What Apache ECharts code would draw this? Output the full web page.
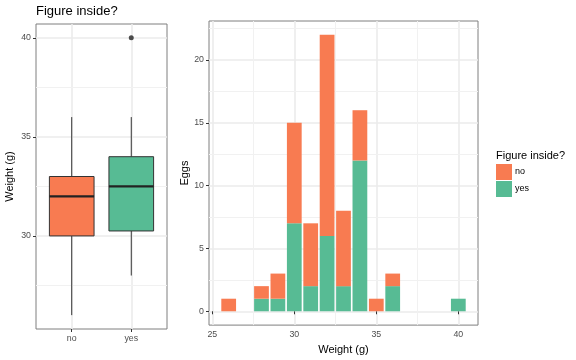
<!DOCTYPE html>
<html><head><meta charset="utf-8">
<script src="https://cdn.jsdelivr.net/npm/echarts@6/dist/echarts.min.js"></script>
<style>html,body{margin:0;padding:0;background:#fff}#c{width:576px;height:360px}</style>
</head><body><div id="c"></div>
<script>
// ---- data ----
const boxCategories = ['no', 'yes'];
const boxNo = [26, 30, 32, 33, 36];        // min, Q1, median, Q3, max
const boxYes = [28, 30.25, 32.5, 34, 36];
const outliersYes = [40];
const weights = [26, 28, 29, 30, 31, 32, 33, 34, 35, 36, 40];
const eggsNo  = [1, 1, 2, 8, 5, 16, 6, 4, 1, 1, 0];
const eggsYes = [0, 1, 1, 7, 2, 6, 2, 12, 0, 2, 1];
const leftYTicks = [30, 35, 40];
const leftYMinor = [27.5, 32.5, 37.5];
const rightXTicks = [25, 30, 35, 40];
const rightXMinor = [27.5, 32.5, 37.5];
const rightYTicks = [0, 5, 10, 15, 20];
const rightYMinor = [2.5, 7.5, 12.5, 17.5, 22.5];

const colNo = '#F87B51', colYes = '#57BB94';
const FONT = 'Liberation Sans, Arial, sans-serif';
const gridMajor = '#EBEBEB', gridMinor = '#F1F1F1';
const tickLbl = { color: '#4D4D4D', fontSize: 8.8, fontFamily: FONT };
const tickStyle = { show: true, length: 3, lineStyle: { color: '#333333', width: 1 } };
const majorSplit = { show: true, lineStyle: { color: gridMajor, width: 1.6 } };

function minorLines(axisKey, vals) {
  return {
    silent: true, symbol: 'none', z: 1, animation: false,
    label: { show: false },
    lineStyle: { type: 'solid', color: gridMinor, width: 1 },
    emphasis: { disabled: true },
    data: vals.map(v => ({ [axisKey]: v }))
  };
}

const boxData = [[1].concat(boxNo), [2].concat(boxYes)];
// stacked: yes at bottom, no on top
const yesBars = weights.map((w, i) => [w, 0, eggsYes[i]]);
const noBars = weights.map((w, i) => [w, eggsYes[i], eggsYes[i] + eggsNo[i]]);

function renderBar(params, api) {
  const x = api.value(0), y0 = api.value(1), y1 = api.value(2);
  if (y1 <= y0) return null;
  const p0 = api.coord([x - 0.45, y1]);
  const p1 = api.coord([x + 0.45, y0]);
  return { type: 'rect', shape: { x: p0[0], y: p0[1], width: p1[0] - p0[0], height: p1[1] - p0[1] },
           style: { fill: api.visual('color') } };
}

const chart = echarts.init(document.getElementById('c'), null, { renderer: 'canvas' });
chart.setOption({
  animation: false,
  backgroundColor: '#ffffff',
  textStyle: { fontFamily: FONT },
  title: [
    { text: 'Figure inside?', left: 36, top: 5, padding: 0, textStyle: { fontSize: 13, fontWeight: 'normal', color: '#000', fontFamily: FONT } },
    { text: 'Figure inside?', left: 496, top: 150, padding: 0, textStyle: { fontSize: 11, fontWeight: 'normal', color: '#000', fontFamily: FONT } }
  ],
  legend: {
    data: ['no', 'yes'], orient: 'vertical', left: 496, top: 164, padding: 0,
    icon: 'rect', itemWidth: 16, itemHeight: 16, itemGap: 1,
    textStyle: { fontSize: 9, color: '#000', fontFamily: FONT, padding: [0, 0, 0, -2] }
  },
  grid: [
    { left: 36, top: 24, width: 131, height: 305, show: true, borderColor: '#7F7F7F', borderWidth: 1, backgroundColor: '#fff' },
    { left: 209, top: 21, width: 269, height: 305, show: true, borderColor: '#7F7F7F', borderWidth: 1, backgroundColor: '#fff' }
  ],
  xAxis: [
    { gridIndex: 0, type: 'value', min: 0.4, max: 2.6,
      axisLine: { show: false },
      axisTick: Object.assign({ customValues: [1, 2] }, tickStyle),
      axisLabel: Object.assign({ customValues: [1, 2], margin: 5, formatter: v => boxCategories[Math.round(v) - 1] }, tickLbl),
      splitLine: majorSplit },
    { gridIndex: 1, type: 'value', min: 24.8, max: 41.2,
      name: 'Weight (g)', nameLocation: 'middle', nameGap: 16,
      nameTextStyle: { fontSize: 11, color: '#000', fontFamily: FONT },
      axisLine: { show: false },
      axisTick: Object.assign({ customValues: rightXTicks }, tickStyle),
      axisLabel: Object.assign({ customValues: rightXTicks, margin: 5 }, tickLbl),
      splitLine: majorSplit }
  ],
  yAxis: [
    { gridIndex: 0, type: 'value', min: 25.3, max: 40.7,
      name: 'Weight (g)', nameLocation: 'middle', nameGap: 21,
      nameTextStyle: { fontSize: 11, color: '#000', fontFamily: FONT },
      axisLine: { show: false },
      axisTick: Object.assign({ customValues: leftYTicks }, tickStyle),
      axisLabel: Object.assign({ customValues: leftYTicks, margin: 5 }, tickLbl),
      splitLine: majorSplit },
    { gridIndex: 1, type: 'value', min: -1.1, max: 23.1,
      name: 'Eggs', nameLocation: 'middle', nameGap: 15,
      nameTextStyle: { fontSize: 11, color: '#000', fontFamily: FONT },
      axisLine: { show: false },
      axisTick: Object.assign({ customValues: rightYTicks }, tickStyle),
      axisLabel: Object.assign({ customValues: rightYTicks, margin: 5 }, tickLbl),
      splitLine: majorSplit }
  ],
  series: [
    {
      type: 'custom', name: 'box', xAxisIndex: 0, yAxisIndex: 0, z: 3,
      data: boxData,
      encode: { x: 0, y: [1, 2, 3, 4, 5] },
      markLine: minorLines('yAxis', leftYMinor),
      renderItem: function (params, api) {
        const x = api.value(0);
        const half = 0.375;
        const pMin = api.coord([x, api.value(1)]);
        const pQ1 = api.coord([x, api.value(2)]);
        const pMed = api.coord([x, api.value(3)]);
        const pQ3 = api.coord([x, api.value(4)]);
        const pMax = api.coord([x, api.value(5)]);
        const left = api.coord([x - half, api.value(3)])[0];
        const right = api.coord([x + half, api.value(3)])[0];
        const fill = params.dataIndex === 0 ? colNo : colYes;
        const ls = { stroke: '#333333', lineWidth: 1 };
        return {
          type: 'group',
          children: [
            { type: 'line', shape: { x1: pMin[0], y1: pMin[1], x2: pQ1[0], y2: pQ1[1] }, style: ls },
            { type: 'line', shape: { x1: pQ3[0], y1: pQ3[1], x2: pMax[0], y2: pMax[1] }, style: ls },
            { type: 'rect', shape: { x: left, y: pQ3[1], width: right - left, height: pQ1[1] - pQ3[1] },
              style: { fill: fill, stroke: '#333333', lineWidth: 1 } },
            { type: 'line', shape: { x1: left, y1: pMed[1], x2: right, y2: pMed[1] }, style: { stroke: '#222222', lineWidth: 2.2 } }
          ]
        };
      }
    },
    {
      type: 'scatter', name: 'outlier', xAxisIndex: 0, yAxisIndex: 0, z: 4,
      data: outliersYes.map(v => [2, v]), symbol: 'circle', symbolSize: 5,
      itemStyle: { color: '#222222' }
    },
    {
      type: 'custom', name: 'yes', xAxisIndex: 1, yAxisIndex: 1, z: 3,
      data: yesBars, encode: { x: 0, y: [1, 2] },
      itemStyle: { color: colYes }, renderItem: renderBar,
      markLine: minorLines('xAxis', rightXMinor)
    },
    {
      type: 'custom', name: 'no', xAxisIndex: 1, yAxisIndex: 1, z: 3,
      data: noBars, encode: { x: 0, y: [1, 2] },
      itemStyle: { color: colNo }, renderItem: renderBar,
      markLine: minorLines('yAxis', rightYMinor)
    }
  ]
});
</script></body></html>
